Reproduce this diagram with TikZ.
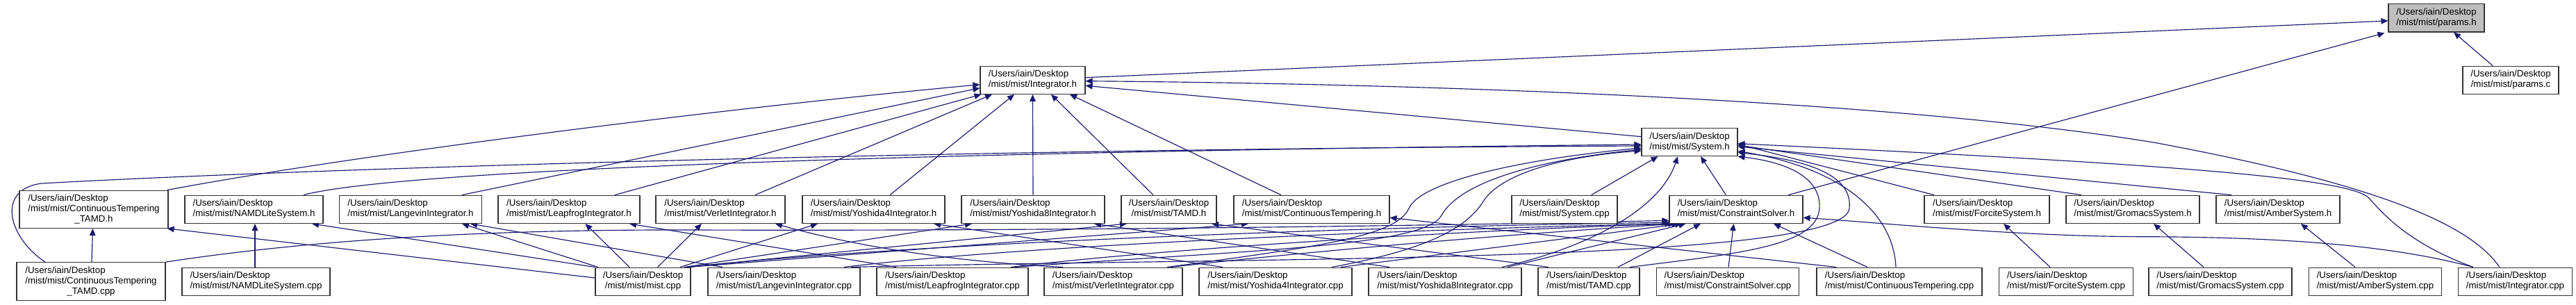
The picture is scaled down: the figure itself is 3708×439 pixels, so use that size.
\documentclass[tikz,border=0pt]{standalone}
\usepackage{fontspec}
\newfontfamily\dxf{Liberation Sans}
\usetikzlibrary{arrows.meta,calc}
\definecolor{edgeblue}{HTML}{191970}
\newcommand{\flab}[1]{\begin{tabular}{@{}l@{}}/Users/iain/Desktop\\\multicolumn{1}{@{}c@{}}{#1}\end{tabular}}
\newcommand{\flabt}[1]{\begin{tabular}{@{}l@{}}/Users/iain/Desktop\\/mist/mist/ContinuousTempering\\\multicolumn{1}{@{}c@{}}{#1}\end{tabular}}
\pgfdeclarelayer{bg}
\pgfsetlayers{bg,main}
\tikzset{
  file/.style={draw=black!80, line width=1.1pt, fill=white, inner sep=0pt,
    font=\dxf\fontsize{13.3pt}{15pt}\selectfont, minimum height=40.3pt},
  root/.style={fill=black!25},
  dep/.style={draw=edgeblue, line width=1.15pt, -{Triangle[length=10pt,width=8.5pt]}},
}
\begin{document}
\begin{tikzpicture}[x=1pt,y=-1pt]
\useasboundingbox (0,0) rectangle (3708,439);
\begin{pgfonlayer}{bg}
\fill[white] (0,0) rectangle (3708,439);
\end{pgfonlayer}
% rank 0-2
\node[file, root, minimum width=138pt] (paramsH) at (3507,25.8) {\flab{/mist/mist/params.h}};
\node[file, minimum width=151pt] (intH) at (1486.5,115.2) {\flab{/mist/mist/Integrator.h}};
\node[file, minimum width=138pt] (paramsC) at (3614,115.2) {\flab{/mist/mist/params.c}};
\node[file, minimum width=138pt] (sysH) at (2432,204.5) {\flab{/mist/mist/System.h}};
% headers row
\node[file, minimum width=214pt, minimum height=54.3pt] (ctTamdH) at (135,301.2) {\flabt{\_TAMD.h}};
\node[file, minimum width=199pt] (namdH) at (365.5,301.3) {\flab{/mist/mist/NAMDLiteSystem.h}};
\node[file, minimum width=205pt] (langH) at (591,301.3) {\flab{/mist/mist/LangevinIntegrator.h}};
\node[file, minimum width=204pt] (leapH) at (819,301.3) {\flab{/mist/mist/LeapfrogIntegrator.h}};
\node[file, minimum width=186pt] (verletH) at (1037,301.3) {\flab{/mist/mist/VerletIntegrator.h}};
\node[file, minimum width=205pt] (y4H) at (1257.5,301.3) {\flab{/mist/mist/Yoshida4Integrator.h}};
\node[file, minimum width=206pt] (y8H) at (1487,301.3) {\flab{/mist/mist/Yoshida8Integrator.h}};
\node[file, minimum width=137pt] (tamdH) at (1682.5,301.3) {\flab{/mist/mist/TAMD.h}};
\node[file, minimum width=224pt] (ctH) at (1888,301.3) {\flab{/mist/mist/ContinuousTempering.h}};
\node[file, minimum width=152pt] (sysCpp) at (2252,301.3) {\flab{/mist/mist/System.cpp}};
\node[file, minimum width=192pt] (csH) at (2499,301.3) {\flab{/mist/mist/ConstraintSolver.h}};
\node[file, minimum width=180pt] (forciteH) at (2860,301.3) {\flab{/mist/mist/ForciteSystem.h}};
\node[file, minimum width=192pt] (gromacsH) at (3070,301.3) {\flab{/mist/mist/GromacsSystem.h}};
\node[file, minimum width=178pt] (amberH) at (3279,301.3) {\flab{/mist/mist/AmberSystem.h}};
% cpp row
\node[file, minimum width=214pt, minimum height=55pt] (ctTamdCpp) at (131,405.2) {\flabt{\_TAMD.cpp}};
\node[file, minimum width=213pt] (namdCpp) at (368.5,405.2) {\flab{/mist/mist/NAMDLiteSystem.cpp}};
\node[file, minimum width=137pt] (mistCpp) at (925.5,405.2) {\flab{/mist/mist/mist.cpp}};
\node[file, minimum width=219pt] (langCpp) at (1128.5,405.2) {\flab{/mist/mist/LangevinIntegrator.cpp}};
\node[file, minimum width=218pt] (leapCpp) at (1371,405.2) {\flab{/mist/mist/LeapfrogIntegrator.cpp}};
\node[file, minimum width=199pt] (verletCpp) at (1602.5,405.2) {\flab{/mist/mist/VerletIntegrator.cpp}};
\node[file, minimum width=220pt] (y4Cpp) at (1836,405.2) {\flab{/mist/mist/Yoshida4Integrator.cpp}};
\node[file, minimum width=220pt] (y8Cpp) at (2080,405.2) {\flab{/mist/mist/Yoshida8Integrator.cpp}};
\node[file, minimum width=146pt] (tamdCpp) at (2287,405.2) {\flab{/mist/mist/TAMD.cpp}};
\node[file, minimum width=205pt] (csCpp) at (2487,405.2) {\flab{/mist/mist/ConstraintSolver.cpp}};
\node[file, minimum width=238pt] (ctCpp) at (2734,405.2) {\flab{/mist/mist/ContinuousTempering.cpp}};
\node[file, minimum width=193pt] (forciteCpp) at (2974,405.2) {\flab{/mist/mist/ForciteSystem.cpp}};
\node[file, minimum width=206pt] (gromacsCpp) at (3196,405.2) {\flab{/mist/mist/GromacsSystem.cpp}};
\node[file, minimum width=191pt] (amberCpp) at (3419,405.2) {\flab{/mist/mist/AmberSystem.cpp}};
\node[file, minimum width=164pt] (intCpp) at (3620.5,405.2) {\flab{/mist/mist/Integrator.cpp}};

\begin{pgfonlayer}{bg}
% params.h
\draw[dep] ($(intH.east)+(0,-3.5)$) -- ($(paramsH.west)+(0,4.2)$);
\draw[dep] ($(csH.north)+(75,0)$) -- ($(paramsH.south west)+(-5,1)$);
\draw[dep] ($(paramsC.north)+(-26,0)$) -- ($(paramsH.south)+(25,0)$);
% Integrator.h
\draw[dep] ($(ctTamdH.north east)+(-2,0)$) .. controls (500,225) and (1000,160) .. ($(intH.west)+(0,6.5)$);
\draw[dep] ($(langH.north)+(74,0)$) -- ($(intH.west)+(0,11.5)$);
\draw[dep] ($(leapH.north)+(66,0)$) -- ($(intH.south west)+(2,0)$);
\draw[dep] ($(verletH.north)+(50,0)$) -- ($(intH.south)+(-58.5,0)$);
\draw[dep] ($(y4H.north)+(23.5,0)$) -- ($(intH.south)+(-26.5,0)$);
\draw[dep] (y8H.north) -- (intH.south);
\draw[dep] ($(tamdH.north)+(-22.5,0)$) -- ($(intH.south)+(26.5,0)$);
\draw[dep] ($(ctH.north)+(-44,0)$) -- ($(intH.south)+(53.5,0)$);
\draw[dep] ($(sysH.west)+(0,-7.8)$) -- ($(intH.east)+(0,8.1)$);
\draw[dep] ($(intCpp.north)+(-22.5,0)$) .. controls (3560,330) and (3450,270) .. (3100,205) .. controls (2700,140) and (2000,120) .. ($(intH.east)+(0,1.5)$);
% System.h
\draw[dep] ($(intCpp.north)+(-60.5,0)$) .. controls (3480,355) and (3440,320) .. (3410,285) .. controls (3380,255) and (3100,235) .. ($(sysH.east)+(0,2.2)$);
\draw[dep] ($(csH.north)+(-14.5,0)$) -- ($(sysH.south)+(16,0)$);
\draw[dep] ($(sysCpp.north)+(38.6,0)$) -- ($(sysH.south)+(-45.5,0)$);
\draw[dep] ($(namdH.north)+(71.5,0)$) .. controls (560,248) and (1200,220) .. ($(sysH.west)+(0,3.5)$);
\draw[dep] ($(ctTamdCpp.north)+(-66,0)$) .. controls (10,340) and (-5,272) .. (60,264) .. controls (400,245) and (1300,215) .. ($(sysH.west)+(0,5.5)$);
\draw[dep] ($(forciteH.north)+(-76,0)$) -- ($(sysH.east)+(0,3)$);
\draw[dep] ($(gromacsH.north)+(-74,0)$) -- ($(sysH.east)+(0,4.5)$);
\draw[dep] ($(amberH.north)+(-67,0)$) -- ($(sysH.east)+(0,6.5)$);
\draw[dep] ($(verletCpp.north)+(77.5,0)$) .. controls (1900,355) and (2010,340) .. (2028,300) .. controls (2045,260) and (2200,228) .. ($(sysH.west)+(0,8.5)$);
\draw[dep] ($(leapCpp.north)+(89,0)$) .. controls (1800,360) and (2050,355) .. (2075,310) .. controls (2100,265) and (2200,232) .. ($(sysH.west)+(0,10.5)$);
\draw[dep] ($(y4Cpp.north)+(81,0)$) .. controls (2050,360) and (2110,330) .. (2135,290) .. controls (2160,250) and (2250,225) .. ($(sysH.west)+(0,12.5)$);
\draw[dep] ($(y8Cpp.north)+(82,0)$) .. controls (2290,355) and (2390,300) .. ($(sysH.south)+(-17,0)$);
\draw[dep] ($(tamdCpp.north)+(59,0)$) .. controls (2500,365) and (2615,355) .. (2619,300) .. controls (2622,250) and (2560,232) .. (sysH.south east);
\draw[dep] ($(langCpp.north)+(96.5,0)$) .. controls (1800,370) and (2655,380) .. (2662,300) .. controls (2668,245) and (2580,228) .. ($(sysH.east)+(0,15)$);
\draw[dep] ($(ctCpp.north)+(-5,0)$) .. controls (2725,300) and (2640,240) .. ($(sysH.east)+(0,13)$);
% headers from cpp files
\draw[dep] ($(ctTamdCpp.north)+(1,0)$) -- ($(ctTamdH.south)+(-1.5,0)$);
\draw[dep] ($(namdCpp.north)+(-1.5,0)$) -- ($(namdH.south)+(1.5,0)$);
\draw[dep] ($(mistCpp.west)+(0,-5.2)$) -- ($(ctTamdH.south east)+(-2,0)$);
\draw[dep] (mistCpp.north west) -- ($(namdH.south)+(83.5,0)$);
\draw[dep] ($(mistCpp.north)+(-64.5,0)$) -- ($(langH.south)+(74,0)$);
\draw[dep] ($(langCpp.north)+(-88.5,0)$) -- ($(langH.south)+(86,0)$);
\draw[dep] ($(mistCpp.north)+(-19.5,0)$) -- ($(leapH.south)+(23.5,0)$);
\draw[dep] ($(leapCpp.north)+(-81,0)$) -- ($(leapH.south)+(87,0)$);
\draw[dep] ($(mistCpp.north)+(21,0)$) -- ($(verletH.south)+(-27,0)$);
\draw[dep] ($(verletCpp.north)+(-72.5,0)$) .. controls (1400,378) and (1250,360) .. ($(verletH.south)+(79,0)$);
\draw[dep] ($(mistCpp.north)+(53.5,0)$) -- ($(y4H.south)+(-80.5,0)$);
\draw[dep] ($(y4Cpp.north)+(-76,0)$) -- ($(y4H.south)+(86.5,0)$);
\draw[dep] ($(mistCpp.north)+(59.5,0)$) -- ($(y8H.south)+(-88,0)$);
\draw[dep] ($(y8Cpp.north)+(-80,0)$) -- ($(y8H.south)+(88,0)$);
\draw[dep] ($(mistCpp.north)+(62.5,0)$) -- ($(tamdH.south)+(-60.5,0)$);
\draw[dep] ($(tamdCpp.north)+(-58,0)$) -- ($(tamdH.south)+(61.5,0)$);
\draw[dep] ($(mistCpp.north)+(64.5,0)$) -- ($(ctH.south)+(-91,0)$);
\draw[dep] ($(ctCpp.north)+(-91,0)$) -- ($(ctH.east)+(0,12)$);
% ConstraintSolver.h
\draw[dep] (ctTamdCpp.north east) .. controls (450,345) and (700,330) .. (1000,331) .. controls (1600,333) and (2200,322) .. ($(csH.west)+(0,16)$);
\draw[dep] ($(mistCpp.north)+(66.5,0)$) .. controls (1300,350) and (2000,325) .. ($(csH.west)+(0,19)$);
\draw[dep] ($(langCpp.north)+(86.5,0)$) .. controls (1500,350) and (2100,328) .. ($(csH.south west)+(4,0)$);
\draw[dep] ($(leapCpp.north)+(84,0)$) .. controls (1700,355) and (2150,330) .. ($(csH.south west)+(9,0)$);
\draw[dep] ($(verletCpp.north)+(82.5,0)$) .. controls (1900,360) and (2200,335) .. ($(csH.south west)+(14,0)$);
\draw[dep] ($(y4Cpp.north)+(94,0)$) -- ($(csH.south west)+(19,0)$);
\draw[dep] ($(y8Cpp.north)+(90,0)$) -- ($(csH.south west)+(24,0)$);
\draw[dep] ($(tamdCpp.north)+(42,0)$) -- ($(csH.south)+(-51,0)$);
\draw[dep] ($(csCpp.north)+(1,0)$) -- ($(csH.south)+(-3.5,0)$);
\draw[dep] ($(ctCpp.north)+(-46,0)$) -- ($(csH.south)+(54,0)$);
\draw[dep] ($(intCpp.north)+(-60.5,0)$) .. controls (3450,355) and (3300,341) .. (3080,340.7) .. controls (2900,340) and (2700,320) .. ($(csH.east)+(0,12)$);
% system leaves
\draw[dep] ($(forciteCpp.north)+(-23,0)$) -- ($(forciteH.south)+(24,0)$);
\draw[dep] ($(gromacsCpp.north)+(-24,0)$) -- ($(gromacsH.south)+(30,0)$);
\draw[dep] ($(amberCpp.north)+(-29,0)$) -- ($(amberH.south)+(33,0)$);
\end{pgfonlayer}
\end{tikzpicture}
\end{document}
